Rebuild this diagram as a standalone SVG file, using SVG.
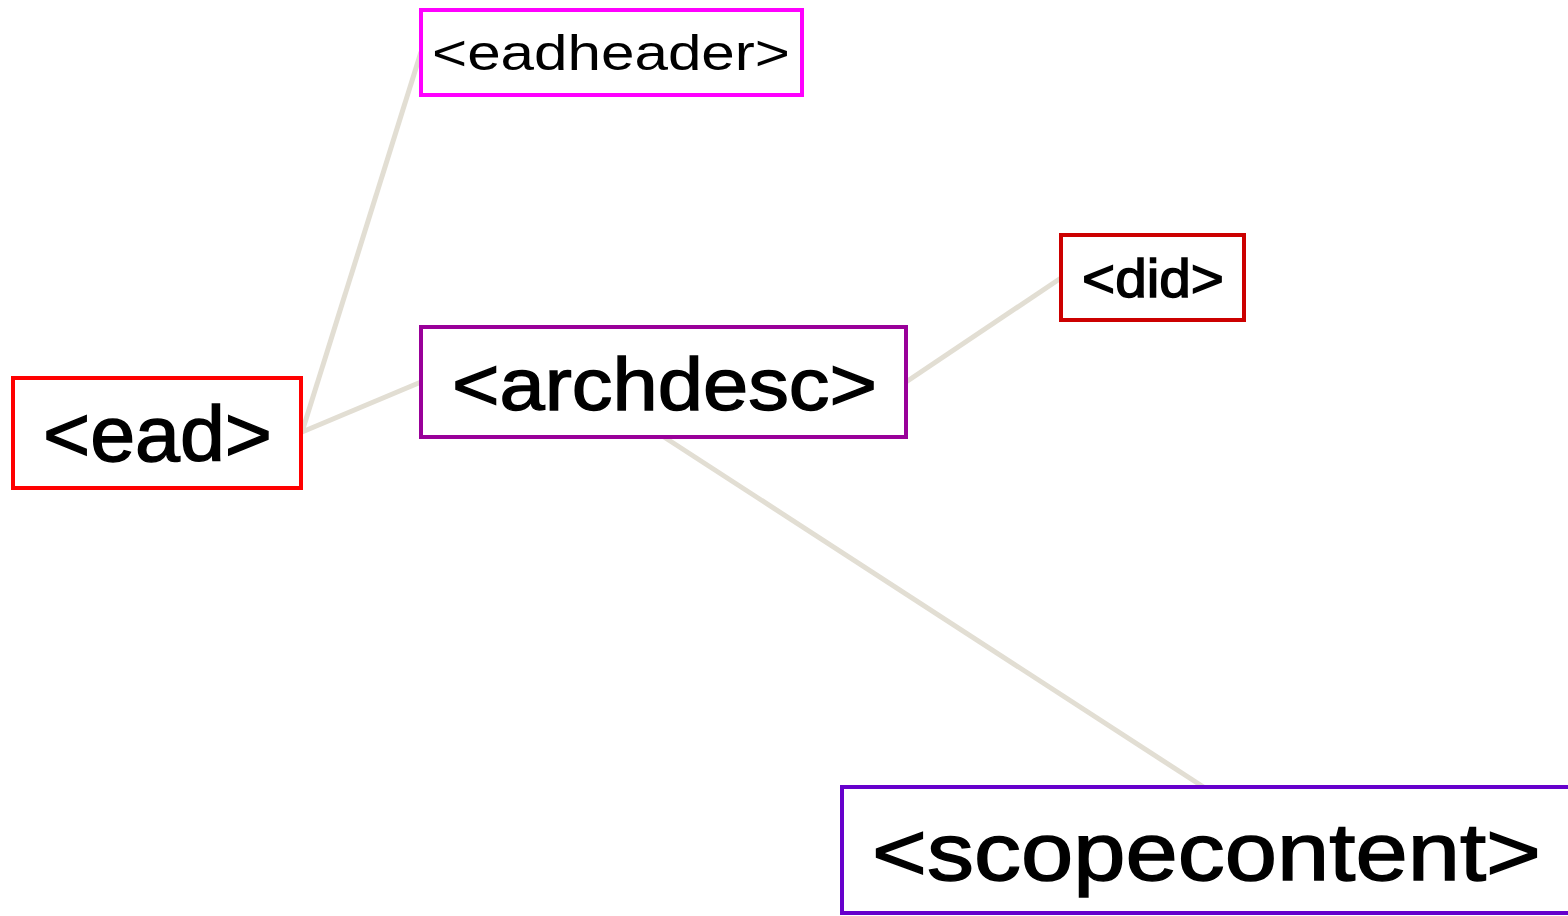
<svg xmlns="http://www.w3.org/2000/svg" width="1568" height="916" viewBox="0 0 1568 916">
<style>
.box{fill:#fff;stroke-width:4}
.t{font-family:"Liberation Sans",Arial,sans-serif;fill:#000;text-anchor:start}
.b{stroke:#000;stroke-width:1.4}
.c{stroke:#E2DED3;stroke-width:5;fill:none}
</style>
<rect width="1568" height="916" fill="#fff"/>
<g id="connectors">
<line class="c" x1="302" y1="432" x2="421" y2="52"/>
<line class="c" x1="302" y1="432" x2="421" y2="382"/>
<line class="c" x1="906" y1="382" x2="1061" y2="278"/>
<line class="c" x1="664" y1="437" x2="1205" y2="788"/>
</g>
<g id="ead">
<rect class="box" x="13" y="378" width="288" height="110" stroke="#FF0000"/>
<text class="t b" x="43" y="461" font-size="78" textLength="229" lengthAdjust="spacingAndGlyphs">&lt;ead&gt;</text>
</g>
<g id="eadheader">
<rect class="box" x="421" y="10" width="381" height="85" stroke="#FF00FF"/>
<text class="t" x="432" y="70" font-size="50" textLength="358" lengthAdjust="spacingAndGlyphs">&lt;eadheader&gt;</text>
</g>
<g id="archdesc">
<rect class="box" x="421" y="327" width="485" height="110" stroke="#990099"/>
<text class="t b" x="452" y="410" font-size="75" textLength="425" lengthAdjust="spacingAndGlyphs">&lt;archdesc&gt;</text>
</g>
<g id="did">
<rect class="box" x="1061" y="235" width="183" height="85" stroke="#CC0000"/>
<text class="t b" x="1082" y="297" font-size="53" textLength="142" lengthAdjust="spacingAndGlyphs">&lt;did&gt;</text>
</g>
<g id="scopecontent">
<rect class="box" x="842" y="787" width="740" height="126" stroke="#6600CC"/>
<text class="t b" x="872" y="880" font-size="81" textLength="669" lengthAdjust="spacingAndGlyphs">&lt;scopecontent&gt;</text>
</g>
</svg>
